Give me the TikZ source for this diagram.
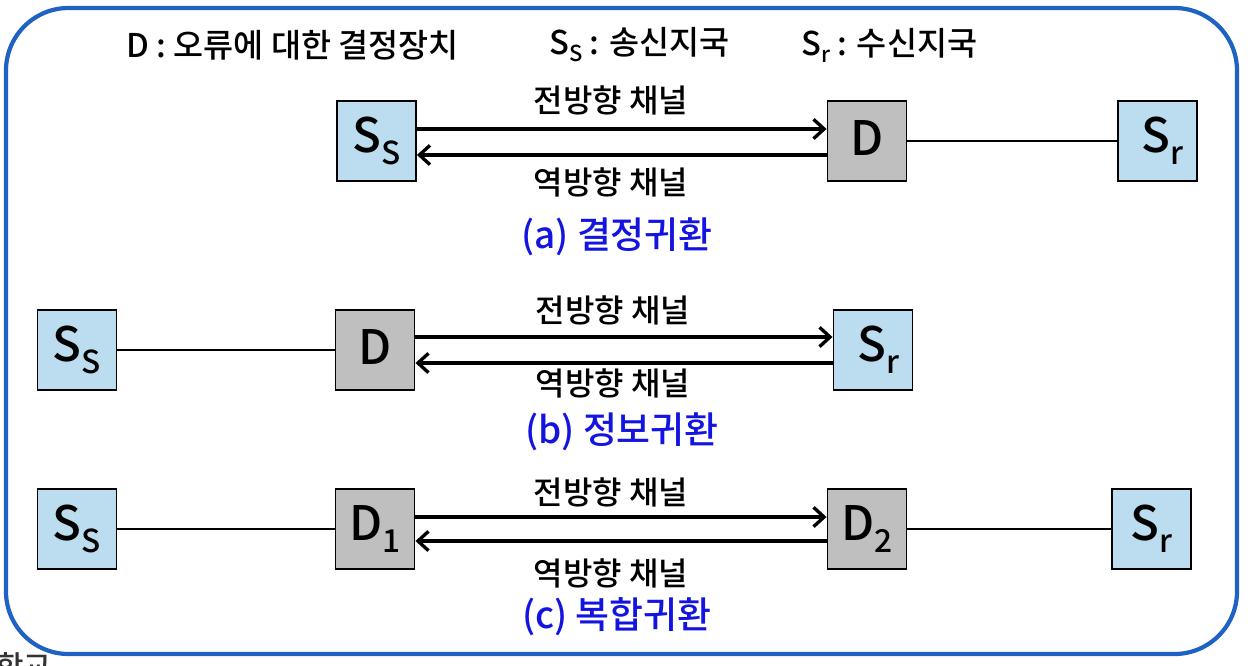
\documentclass[tikz,border=0pt]{standalone}
\usepackage{fontspec}
\setmainfont{Noto Sans CJK KR}[UprightFont=* Medium]
\usetikzlibrary{arrows.meta}
\definecolor{boxblue}{RGB}{188,220,240}
\definecolor{boxgray}{RGB}{191,191,191}
\definecolor{frameblue}{RGB}{30,98,196}
\definecolor{capblue}{RGB}{20,20,225}
\newcommand{\lowsub}[1]{\raisebox{-0.45ex}{\fontsize{18}{19}\selectfont #1}}
\newcommand{\hdsub}[1]{\raisebox{-0.4ex}{\fontsize{12.5}{13}\selectfont #1}}

\begin{document}
\begin{tikzpicture}[x=0.02cm, y=-0.02cm,
    station/.style={draw, line width=1.1pt, fill=boxblue, minimum width=1.58cm, minimum height=1.6cm, inner sep=0pt, font=\fontsize{27}{29}\selectfont},
    decider/.style={station, fill=boxgray},
    chan/.style={line width=1.9pt, -{Straight Barb[length=6pt,width=11pt]}},
    wire/.style={line width=0.9pt},
    lbl/.style={font=\fontsize{18.2}{20}\selectfont},
    caption/.style={font=\fontsize{21}{23}\selectfont, text=capblue},
    hdr/.style={anchor=west, font=\fontsize{18.6}{20}\selectfont}]
        \useasboundingbox (0, 0) rectangle (1252, 666);
        \draw[frameblue, line width=2.4pt, rounded corners=1.25cm] (6, 8) rectangle (1237, 654);
        \node[anchor=west, font=\fontsize{17}{18}\selectfont, text=black!80] (cut) at (-10, 666) {학교};
        % legend
        \node[hdr] (keyD) at (120, 45) {D : 오류에 대한 결정장치};
        \node[hdr] (keyS) at (543, 45) {S\hdsub{S} : 송신지국};
        \node[hdr] (keyR) at (795, 45) {S\hdsub{r} : 수신지국};
        % (a)
        \node[station] (ssA) at (376.5, 141) {\raisebox{3pt}{S\lowsub{S}}};
        \node[decider] (dA) at (867, 141) {\raisebox{3pt}{D}};
        \node[station] (srA) at (1157.5, 141) {\raisebox{3pt}{\hspace{6pt}S\lowsub{r}}};
        \draw[chan] ([yshift=0.24cm]ssA.east) -- ([yshift=0.24cm]dA.west);
        \draw[chan] ([yshift=-0.28cm]dA.west) -- ([yshift=-0.28cm]ssA.east);
        \draw[wire] (dA) -- (srA);
        \node[lbl] (fwdA) at (611, 100) {전방향 채널};
        \node[lbl] (bwdA) at (611, 182) {역방향 채널};
        \node[caption] (capA) at (617, 237) {(a) 결정귀환};
        % (b)
        \node[station] (ssB) at (77, 350) {\raisebox{3pt}{S\lowsub{S}}};
        \node[decider] (dB) at (375, 350) {\raisebox{3pt}{D}};
        \node[station] (srB) at (873, 350) {\raisebox{3pt}{\hspace{6pt}S\lowsub{r}}};
        \draw[wire] (ssB) -- (dB);
        \draw[chan] ([yshift=0.26cm]dB.east) -- ([yshift=0.26cm]srB.west);
        \draw[chan] ([yshift=-0.26cm]srB.west) -- ([yshift=-0.26cm]dB.east);
        \node[lbl] (fwdB) at (613, 310) {전방향 채널};
        \node[lbl] (bwdB) at (613, 383) {역방향 채널};
        \node[caption] (capB) at (622, 432) {(b) 정보귀환};
        % (c)
        \node[station] (ssC) at (77, 529) {\raisebox{3pt}{S\lowsub{S}}};
        \node[decider] (dOne) at (375, 529) {\raisebox{3pt}{D\lowsub{1}}};
        \node[decider] (dTwo) at (867, 529) {\raisebox{3pt}{D\lowsub{2}}};
        \node[station] (srC) at (1151.5, 529) {\raisebox{3pt}{S\lowsub{r}}};
        \draw[wire] (ssC) -- (dOne);
        \draw[chan] ([yshift=0.24cm]dOne.east) -- ([yshift=0.24cm]dTwo.west);
        \draw[chan] ([yshift=-0.24cm]dTwo.west) -- ([yshift=-0.24cm]dOne.east);
        \draw[wire] (dTwo) -- (srC);
        \node[lbl] (fwdC) at (611, 492) {전방향 채널};
        \node[lbl] (bwdC) at (611, 573) {역방향 채널};
        \node[caption] (capC) at (617, 617) {(c) 복합귀환};
\end{tikzpicture}
\end{document}
